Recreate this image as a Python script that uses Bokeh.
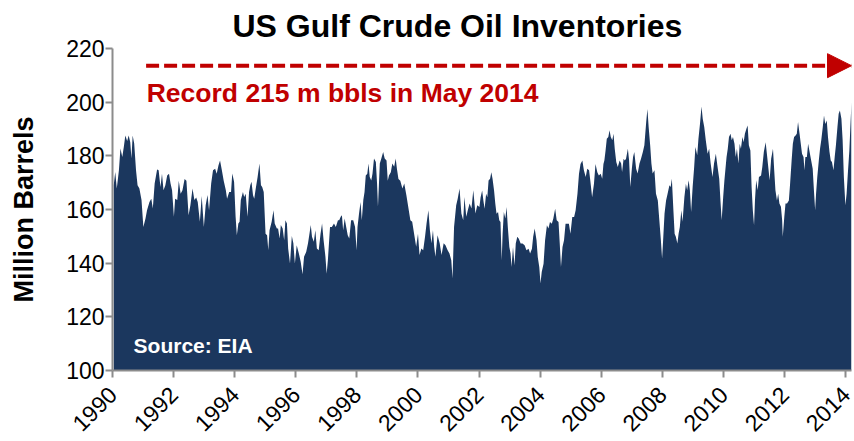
import math
from bokeh.plotting import figure
from bokeh.models import Range1d, FixedTicker, Label, Arrow, NormalHead
from bokeh.embed import file_html
from bokeh.resources import INLINE

# ---- data (decimal year, million barrels) ----
dates = [
    1990.04, 1990.09, 1990.14, 1990.21, 1990.26, 1990.32, 1990.37, 1990.42, 1990.48, 1990.53,
    1990.58, 1990.62, 1990.66, 1990.71, 1990.77, 1990.82, 1990.88, 1990.95, 1991.01, 1991.08,
    1991.13, 1991.21, 1991.27, 1991.32, 1991.38, 1991.46, 1991.51, 1991.57, 1991.62, 1991.67,
    1991.73, 1991.79, 1991.85, 1991.90, 1991.95, 1992.01, 1992.05, 1992.12, 1992.17, 1992.23,
    1992.29, 1992.36, 1992.42, 1992.49, 1992.55, 1992.62, 1992.68, 1992.74, 1992.79, 1992.86,
    1992.92, 1992.99, 1993.05, 1993.11, 1993.16, 1993.23, 1993.29, 1993.36, 1993.41, 1993.47,
    1993.52, 1993.58, 1993.64, 1993.71, 1993.75, 1993.82, 1993.88, 1993.92,
    1993.98, 1994.03, 1994.07, 1994.12, 1994.16, 1994.20, 1994.27, 1994.31, 1994.36, 1994.42,
    1994.47, 1994.51, 1994.55, 1994.60, 1994.64, 1994.68, 1994.75, 1994.81, 1994.86, 1994.90,
    1994.95, 1995.01, 1995.06, 1995.10, 1995.14, 1995.21, 1995.27, 1995.31, 1995.38, 1995.42,
    1995.47, 1995.51, 1995.57, 1995.62, 1995.66, 1995.71, 1995.75, 1995.81, 1995.87, 1995.92,
    1995.97, 1996.03, 1996.10, 1996.16, 1996.22, 1996.27, 1996.34, 1996.40, 1996.44, 1996.49,
    1996.53, 1996.59, 1996.64, 1996.69, 1996.75, 1996.81, 1996.86, 1996.91, 1996.97, 1997.01,
    1997.05, 1997.12, 1997.18, 1997.25, 1997.31, 1997.38, 1997.42, 1997.47, 1997.51, 1997.55,
    1997.60, 1997.65, 1997.70, 1997.75, 1997.81, 1997.88, 1997.94,
    1997.99, 1998.02, 1998.07, 1998.12, 1998.16, 1998.21, 1998.25, 1998.29, 1998.34, 1998.38,
    1998.42, 1998.47, 1998.51, 1998.56, 1998.62, 1998.66, 1998.69, 1998.75, 1998.80, 1998.86,
    1998.91, 1998.97, 1999.01, 1999.05, 1999.11, 1999.16, 1999.22, 1999.27, 1999.31, 1999.36,
    1999.42, 1999.49, 1999.55, 1999.62, 1999.68, 1999.75, 1999.81, 1999.88, 1999.94, 2000.00,
    2000.05, 2000.11, 2000.17, 2000.23, 2000.28, 2000.34, 2000.39, 2000.44, 2000.49, 2000.53,
    2000.57, 2000.64, 2000.71, 2000.77, 2000.84, 2000.90, 2000.97, 2001.03, 2001.09, 2001.13,
    2001.18, 2001.25, 2001.30, 2001.36, 2001.42, 2001.48, 2001.52, 2001.58, 2001.63, 2001.69,
    2001.75, 2001.81, 2001.88, 2001.94,
    2002.01, 2002.05, 2002.10, 2002.14, 2002.18, 2002.23, 2002.27, 2002.31, 2002.36, 2002.40,
    2002.44, 2002.49, 2002.53, 2002.57, 2002.62, 2002.66, 2002.70, 2002.74, 2002.77, 2002.81,
    2002.86, 2002.90, 2002.94, 2002.99, 2003.03, 2003.06, 2003.11, 2003.16, 2003.20, 2003.25,
    2003.30, 2003.36, 2003.42, 2003.49, 2003.55, 2003.62, 2003.67, 2003.73, 2003.77, 2003.82,
    2003.88, 2003.92, 2003.97, 2004.01, 2004.05, 2004.11, 2004.16, 2004.22, 2004.27, 2004.32,
    2004.38, 2004.43, 2004.49, 2004.54, 2004.60, 2004.64, 2004.68, 2004.73, 2004.78, 2004.83,
    2004.89, 2004.94, 2004.99, 2005.05, 2005.11, 2005.16, 2005.22, 2005.27, 2005.32, 2005.38,
    2005.43, 2005.49, 2005.54, 2005.60, 2005.64, 2005.70, 2005.76, 2005.81, 2005.87, 2005.92,
    2005.98, 2006.03,
    2006.07, 2006.10, 2006.14, 2006.18, 2006.23, 2006.27, 2006.31, 2006.36, 2006.40, 2006.44,
    2006.49, 2006.54, 2006.60, 2006.65, 2006.68, 2006.73, 2006.77, 2006.81, 2006.87, 2006.91,
    2006.95, 2007.00, 2007.04, 2007.08, 2007.14, 2007.19, 2007.25, 2007.30, 2007.36, 2007.41,
    2007.47, 2007.51, 2007.55, 2007.60, 2007.64, 2007.68, 2007.74, 2007.79, 2007.85, 2007.90,
    2007.95, 2007.99, 2008.03, 2008.07, 2008.12, 2008.17, 2008.23, 2008.27, 2008.31, 2008.36,
    2008.40, 2008.44, 2008.49, 2008.53, 2008.57, 2008.62, 2008.66, 2008.72, 2008.77, 2008.81,
    2008.86, 2008.90, 2008.94, 2008.99, 2009.04, 2009.08, 2009.14, 2009.18, 2009.23, 2009.28,
    2009.32, 2009.37, 2009.42, 2009.48, 2009.53, 2009.58, 2009.64, 2009.69, 2009.75, 2009.80,
    2009.86, 2009.90, 2009.94, 2009.99, 2010.03,
    2010.10, 2010.14, 2010.18, 2010.23, 2010.27, 2010.31, 2010.36, 2010.40, 2010.44, 2010.49,
    2010.53, 2010.57, 2010.62, 2010.66, 2010.70, 2010.75, 2010.79, 2010.83, 2010.88, 2010.92,
    2010.96, 2011.00, 2011.03, 2011.07, 2011.12, 2011.16, 2011.23, 2011.27, 2011.32, 2011.38,
    2011.42, 2011.46, 2011.51, 2011.56, 2011.62, 2011.66, 2011.70, 2011.75, 2011.79, 2011.83,
    2011.88, 2011.92, 2011.94, 2011.99, 2012.03, 2012.08, 2012.14, 2012.18, 2012.23, 2012.27,
    2012.31, 2012.36, 2012.40, 2012.44, 2012.49, 2012.53, 2012.57, 2012.62, 2012.65, 2012.68,
    2012.73, 2012.77, 2012.81, 2012.87, 2012.92, 2012.96, 2013.00, 2013.03, 2013.07, 2013.12,
    2013.16, 2013.20, 2013.25, 2013.29, 2013.33, 2013.38, 2013.42, 2013.47, 2013.51, 2013.55,
    2013.60, 2013.64, 2013.68, 2013.73, 2013.77, 2013.81, 2013.86, 2013.90, 2013.94, 2013.99,
    2014.03, 2014.07, 2014.12, 2014.16, 2014.19,
]

inventories = [
    169.0, 174.0, 167.8, 174.6, 182.7, 179.6, 183.3, 187.6, 185.5, 187.6,
    185.2, 179.0, 187.6, 184.6, 174.6, 169.0, 167.8, 163.5, 153.5, 156.6,
    159.7, 162.8, 164.0, 160.4, 169.7, 174.9, 174.6, 168.4, 173.3, 167.2,
    169.0, 172.7, 173.3, 169.7, 167.2, 157.3, 164.0, 163.5, 170.7, 165.9,
    167.2, 171.4, 170.7, 157.9, 161.6, 167.8, 163.5, 164.5, 162.8, 155.4,
    165.0, 153.5, 161.6, 165.4, 159.7, 169.7, 174.6, 175.2, 173.3, 176.5,
    178.3, 174.6, 170.7, 167.2, 164.0, 166.5, 166.5, 173.4,
    170.3, 157.3, 150.4, 154.8, 155.4, 163.5, 166.5, 164.7, 165.9, 157.3,
    166.5, 169.0, 170.3, 165.3, 164.0, 167.2, 172.1, 177.1, 169.0, 168.4,
    166.5, 151.0, 150.4, 144.8, 152.3, 155.4, 159.7, 154.8, 152.9, 152.9,
    149.2, 154.2, 152.9, 148.5, 156.0, 154.8, 145.5, 139.9, 150.1, 147.4,
    139.9, 146.7, 143.6, 140.5, 135.9, 142.4, 144.2, 147.4, 150.4, 154.2,
    149.8, 148.0, 152.3, 145.5, 144.8, 151.0, 154.8, 148.5, 142.4, 136.1,
    141.1, 153.5, 153.5, 154.8, 153.5, 156.0, 156.0, 157.3, 157.9, 152.3,
    156.6, 153.5, 150.4, 149.2, 156.0, 156.0, 153.5,
    144.8, 153.5, 158.5, 162.8, 156.0, 163.5, 166.5, 172.7, 173.3, 177.1,
    172.1, 170.8, 173.3, 179.0, 177.7, 169.7, 161.0, 177.1, 179.0, 181.4,
    179.0, 178.3, 170.7, 172.7, 173.9, 177.1, 175.9, 179.0, 175.2, 171.4,
    170.7, 167.8, 169.7, 165.3, 161.0, 156.0, 155.4, 150.4, 146.1, 151.0,
    143.0, 145.5, 144.8, 149.8, 154.8, 159.7, 152.3, 147.4, 152.3, 146.1,
    142.4, 150.4, 147.4, 143.0, 147.4, 146.7, 144.8, 143.6, 141.1, 134.3,
    153.5, 161.6, 164.0, 167.8, 158.5, 156.0, 164.7, 157.3, 159.7, 162.2,
    160.4, 167.2, 158.5, 161.6,
    160.9, 164.6, 167.1, 163.4, 160.3, 165.9, 164.6, 170.8, 171.5, 173.9,
    171.5, 167.1, 162.2, 158.4, 159.1, 156.0, 155.3, 141.1, 151.0, 159.1,
    156.6, 160.9, 153.5, 146.0, 143.6, 138.6, 146.0, 139.2, 147.3, 149.8,
    149.1, 147.3, 147.3, 146.7, 144.8, 145.4, 143.6, 145.4, 149.8, 152.9,
    148.5, 142.3, 138.6, 132.4, 136.7, 139.8, 148.5, 154.1, 152.9, 155.3,
    154.7, 156.6, 160.3, 156.0, 155.3, 147.3, 138.6, 146.0, 148.5, 154.7,
    154.7, 154.7, 151.0, 157.2, 157.2, 159.7, 165.9, 173.3, 177.0, 178.3,
    174.6, 172.1, 175.2, 174.6, 170.8, 164.6, 169.6, 177.0, 173.9, 172.7,
    173.3, 171.5,
    177.0, 178.3, 182.0, 186.4, 187.0, 189.5, 187.0, 185.8, 188.2, 182.6,
    177.7, 175.8, 178.3, 177.1, 174.0, 178.9, 178.3, 178.9, 182.6, 178.3,
    168.4, 175.2, 179.6, 181.4, 175.2, 173.4, 177.1, 178.9, 181.4, 183.9,
    192.6, 197.5, 190.7, 183.9, 177.1, 173.4, 174.6, 165.9, 163.4, 156.0,
    148.6, 141.7, 149.8, 158.5, 163.4, 165.9, 169.0, 168.4, 171.5, 159.7,
    151.0, 149.8, 147.3, 151.0, 153.5, 159.7, 155.4, 164.7, 169.6, 167.2,
    170.9, 167.2, 159.1, 168.4, 175.8, 183.3, 180.2, 186.4, 191.9, 198.4,
    193.8, 190.7, 185.8, 180.8, 182.6, 177.1, 172.1, 177.1, 180.8, 176.4,
    171.5, 163.4, 156.0, 164.7, 170.9,
    179.6, 182.6, 187.0, 188.2, 185.8, 187.0, 184.5, 179.6, 182.6, 177.1,
    184.5, 182.6, 187.0, 185.1, 188.2, 190.1, 191.3, 183.9, 182.0, 168.4,
    159.7, 154.1, 163.4, 170.9, 167.2, 172.1, 172.7, 175.8, 181.4, 185.1,
    180.8, 176.4, 170.9, 178.9, 182.6, 174.6, 167.2, 163.4, 165.9, 162.2,
    161.0, 156.0, 149.8, 157.2, 162.2, 162.2, 163.4, 169.6, 178.3, 184.5,
    187.0, 187.6, 188.2, 192.6, 188.2, 184.5, 180.8, 179.6, 174.6, 179.6,
    179.6, 184.5, 182.0, 178.3, 175.2, 167.2, 159.7, 165.9, 172.1, 178.3,
    182.6, 185.8, 190.7, 195.0, 191.9, 193.2, 187.0, 181.4, 178.3, 177.7,
    174.6, 179.6, 183.9, 190.7, 195.7, 196.9, 193.8, 185.8, 172.1, 161.6,
    165.9, 173.4, 182.0, 192.6, 200.0,
]

year_ticks = [1990, 1992, 1994, 1996, 1998, 2000, 2002, 2004, 2006, 2008, 2010, 2012, 2014]
value_ticks = [100, 120, 140, 160, 180, 200, 220]

title_text = "US Gulf Crude Oil Inventories"
y_label = "Million Barrels"
record_text = "Record 215 m bbls in May 2014"
source_text = "Source: EIA"
record_level = 213.6
arrow_start = 1991.1

NAVY = "#1b375e"
RED = "#c00000"
AXIS_GRAY = "#8c8c8c"
FONT = "Liberation Sans"

y_min, y_max = value_ticks[0], value_ticks[-1]

p = figure(width=854, height=441, output_backend="svg", toolbar_location=None,
           x_range=Range1d(dates[0] - 0.04, dates[-1]), y_range=Range1d(y_min, y_max),
           min_border_left=112, min_border_right=3, min_border_top=47, min_border_bottom=70)

p.title.text = title_text
p.title.text_font = FONT
p.title.text_font_size = "32px"
p.title.text_font_style = "bold"
p.title.text_color = "black"
p.title.align = "left"
p.title.offset = 120
p.title.standoff = 10

p.varea(x=dates, y1=y_min, y2=inventories, fill_color=NAVY, fill_alpha=1.0)

p.xgrid.visible = False
p.ygrid.visible = False
p.outline_line_color = None

for ax in (p.xaxis[0], p.yaxis[0]):
    ax.axis_line_color = AXIS_GRAY
    ax.axis_line_width = 2
    ax.major_tick_line_color = AXIS_GRAY
    ax.major_tick_line_width = 2
    ax.major_tick_in = 0
    ax.major_tick_out = 7
    ax.minor_tick_line_color = None
    ax.major_label_text_font = FONT
    ax.major_label_text_font_size = "23px"
    ax.major_label_text_color = "black"

p.xaxis.ticker = FixedTicker(ticks=year_ticks)
p.xaxis.major_label_orientation = math.pi / 4
p.xaxis.major_label_standoff = 13
p.yaxis.ticker = FixedTicker(ticks=value_ticks)
p.yaxis.major_label_standoff = 1
p.yaxis.axis_label = y_label
p.yaxis.axis_label_text_font = FONT
p.yaxis.axis_label_text_font_size = "27px"
p.yaxis.axis_label_text_font_style = "bold"
p.yaxis.axis_label_text_color = "black"
p.yaxis.axis_label_standoff = 24

arrow = Arrow(end=NormalHead(size=24, fill_color=RED, line_color=RED),
              x_start=arrow_start, y_start=record_level, x_end=dates[-1], y_end=record_level,
              line_color=RED, line_width=4, line_dash="13 5")
p.add_layout(arrow)

p.add_layout(Label(x=arrow_start + 0.02, y=203.6, text=record_text, text_font=FONT,
                   text_font_size="26.5px", text_font_style="bold", text_color=RED,
                   text_baseline="alphabetic"))
p.add_layout(Label(x=1990.69, y=109.2, text=source_text, text_font=FONT,
                   text_font_size="21px", text_font_style="bold", text_color="white",
                   text_baseline="alphabetic"))

open("out.html", "w").write(file_html(p, INLINE))
